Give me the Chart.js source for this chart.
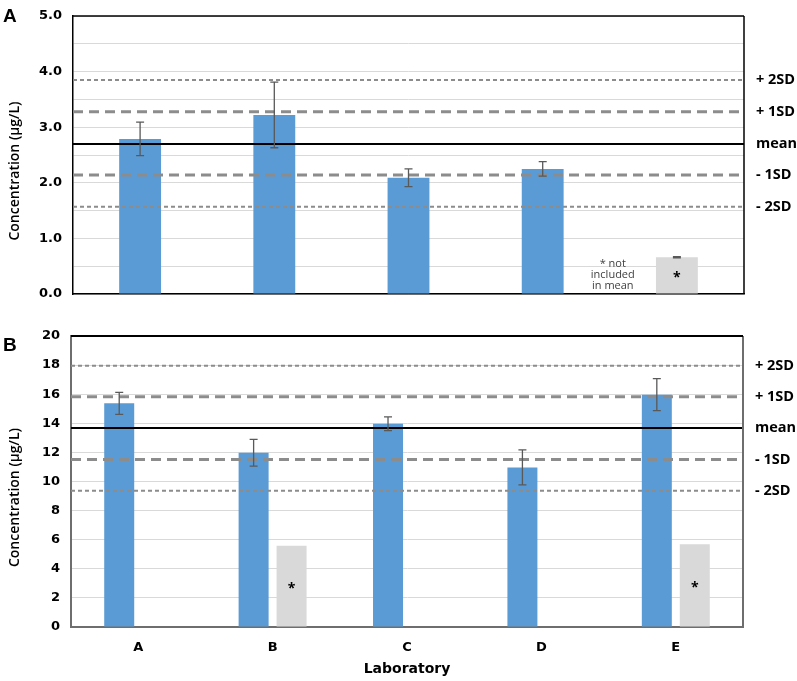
<!DOCTYPE html>
<html>
<head>
<meta charset="utf-8">
<script src="https://cdn.jsdelivr.net/npm/chart.js@4.4.1/dist/chart.umd.min.js"></script>
<style>
  body { margin: 0; background: #fff; }
  #wrap { position: relative; width: 797px; height: 681px; }
  .panel { position: absolute; left: 0; width: 797px; }
  .tag { position: absolute; left: 3px; font: bold 19px "Liberation Sans", Arial, sans-serif; line-height: 19px; }
</style>
</head>
<body>
<div id="wrap">
  <div class="panel" style="top:0;height:300px"><canvas id="chartA"></canvas></div>
  <div class="panel" style="top:300px;height:381px"><canvas id="chartB"></canvas></div>
  <div class="tag" style="top:6px">A</div>
  <div class="tag" style="top:335px">B</div>
</div>
<script>
// data
const laboratories = ['A', 'B', 'C', 'D', 'E'];
const sdLabels = ['+ 2SD', '+ 1SD', 'mean', '- 1SD', '- 2SD'];

// panel A
const includedA = [2.79, 3.22, 2.09, 2.25, null];
const includedErrA = [0.30, 0.59, 0.16, 0.13, null];
const excludedA = [null, null, null, null, 0.66];
const excludedErrA = [null, null, null, null, 0.01];
const sdLinesA = [3.85, 3.28, 2.70, 2.14, 1.57];

// panel B
const includedB = [15.37, 11.98, 13.97, 10.97, 15.97];
const includedErrB = [0.75, 0.92, 0.47, 1.20, 1.10];
const excludedB = [null, 5.58, null, null, 5.69];
const excludedErrB = [null, null, null, null, null];
const sdLinesB = [17.96, 15.83, 13.67, 11.52, 9.36];

const BLUE = '#5b9bd5';
const GREY = '#d9d9d9';
const tickFont = { family: 'DejaVu Sans', weight: 'bold', size: 13 };

// dash style for each sd line, same order as sdLabels
const lineStyles = [
  { color: '#8c8c8c', width: 2, dash: [4, 3] },
  { color: '#8c8c8c', width: 3, dash: [10, 6] },
  { color: '#000', width: 2, dash: [] },
  { color: '#8c8c8c', width: 3, dash: [10, 6] },
  { color: '#8c8c8c', width: 2, dash: [4, 3] }
];

const overlay = {
  id: 'overlay',
  afterDatasetsDraw(chart, args, o) {
    const { ctx, chartArea: a, scales: { x, y } } = chart;
    ctx.save();

    // sd / mean lines + right labels
    o.lines.forEach((v, i) => {
      const py = y.getPixelForValue(v);
      const s = lineStyles[i];
      ctx.beginPath();
      ctx.strokeStyle = s.color;
      ctx.lineWidth = s.width;
      ctx.setLineDash(s.dash);
      ctx.moveTo(a.left, py);
      ctx.lineTo(a.right, py);
      ctx.stroke();
      ctx.setLineDash([]);
      ctx.fillStyle = '#000';
      ctx.font = 'bold 14.5px "Open Sans"';
      ctx.textAlign = 'left';
      ctx.textBaseline = 'middle';
      ctx.fillText(sdLabels[i], a.right + 12, py);
    });

    // error bars
    o.errors.forEach((errs, d) => {
      const meta = chart.getDatasetMeta(d);
      const vals = chart.data.datasets[d].data;
      meta.data.forEach((bar, i) => {
        const v = vals[i], e = errs[i];
        if (v == null || e == null) return;
        const t = y.getPixelForValue(v + e), b = y.getPixelForValue(v - e);
        ctx.beginPath();
        ctx.strokeStyle = '#595959';
        ctx.lineWidth = 1.3;
        ctx.moveTo(bar.x, t); ctx.lineTo(bar.x, b);
        ctx.moveTo(bar.x - 4, t); ctx.lineTo(bar.x + 4, t);
        ctx.moveTo(bar.x - 4, b); ctx.lineTo(bar.x + 4, b);
        ctx.stroke();
      });
    });

    // asterisks on excluded bars
    const exMeta = chart.getDatasetMeta(1);
    ctx.fillStyle = '#000';
    ctx.font = 'bold 14px "Open Sans"';
    ctx.textAlign = 'center';
    ctx.textBaseline = 'middle';
    exMeta.data.forEach((bar, i) => {
      if (chart.data.datasets[1].data[i] == null) return;
      ctx.fillText('*', bar.x, (bar.y + bar.base) / 2 + 3);
    });

    // note
    if (o.note) {
      const nx = (x.getPixelForValue(3) + x.getPixelForValue(4)) / 2 + 3;
      ctx.fillStyle = '#404040';
      ctx.font = '11px "Open Sans"';
      o.note.forEach((t, i) => ctx.fillText(t, nx, a.bottom - 30 + i * 11));
    }

    // frame
    ctx.lineWidth = o.frame.width;
    ctx.strokeStyle = o.frame.side;
    ctx.beginPath();
    ctx.moveTo(a.right, a.top); ctx.lineTo(a.right, a.bottom);
    ctx.stroke();
    ctx.strokeStyle = o.frame.top;
    ctx.beginPath();
    ctx.moveTo(a.left, a.top); ctx.lineTo(a.right, a.top);
    ctx.stroke();

    // y title
    ctx.translate(15, (a.top + a.bottom) / 2 + 16);
    ctx.rotate(-Math.PI / 2);
    ctx.fillStyle = '#000';
    ctx.font = '600 14px "Open Sans"';
    ctx.fillText('Concentration (\u00b5g/L)', 0, 0);
    ctx.restore();
  }
};

new Chart(document.getElementById('chartA'), {
  type: 'bar',
  data: {
    labels: laboratories,
    datasets: [
      { data: includedA, backgroundColor: BLUE },
      { data: excludedA, backgroundColor: GREY }
    ]
  },
  options: {
    responsive: true,
    maintainAspectRatio: false,
    animation: false,
    layout: { padding: { top: 16, right: 53, bottom: 6, left: 0 } },
    datasets: { bar: { skipNull: true, categoryPercentage: 0.4, barPercentage: 0.78, borderWidth: 0 } },
    plugins: {
      legend: { display: false },
      tooltip: { enabled: false },
      overlay: {
        lines: sdLinesA,
        errors: [includedErrA, excludedErrA],
        note: ['* not', 'included', 'in mean'],
        frame: { top: '#000', side: '#000', width: 1.5 }
      }
    },
    scales: {
      x: {
        ticks: { display: false },
        grid: { display: false },
        border: { color: '#000', width: 1.5 },
        afterFit(s) { s.height = 0; }
      },
      y: {
        min: 0, max: 5,
        ticks: {
          stepSize: 0.5,
          color: '#000',
          font: tickFont,
          padding: 11,
          callback: v => Math.abs(v - Math.round(v)) < 1e-6 ? v.toFixed(1) : ''
        },
        grid: { color: '#d9d9d9', drawTicks: false },
        border: { color: '#000', width: 1.5 },
        afterFit(s) { s.width = 73; s.paddingTop = 0; s.paddingBottom = 0; }
      }
    }
  },
  plugins: [overlay]
});

new Chart(document.getElementById('chartB'), {
  type: 'bar',
  data: {
    labels: laboratories,
    datasets: [
      { data: includedB, backgroundColor: BLUE },
      { data: excludedB, backgroundColor: GREY }
    ]
  },
  options: {
    responsive: true,
    maintainAspectRatio: false,
    animation: false,
    layout: { padding: { top: 36, right: 54, bottom: 3, left: 0 } },
    datasets: { bar: { categoryPercentage: 0.565, barPercentage: 0.79, borderWidth: 0 } },
    plugins: {
      legend: { display: false },
      tooltip: { enabled: false },
      overlay: {
        lines: sdLinesB,
        errors: [includedErrB, excludedErrB],
        frame: { top: '#000', side: '#6e6e6e', width: 2 }
      }
    },
    scales: {
      x: {
        ticks: { color: '#000', font: tickFont, padding: 5 },
        grid: { display: false },
        border: { color: '#6e6e6e', width: 2 },
        title: {
          display: true,
          text: 'Laboratory',
          color: '#000',
          font: { family: 'DejaVu Sans', weight: 'bold', size: 14 },
          padding: { top: 6, bottom: 0 }
        },
        afterFit(s) { s.height = 51; }
      },
      y: {
        min: 0, max: 20,
        ticks: { stepSize: 2, color: '#000', font: tickFont, padding: 11 },
        grid: { color: '#d9d9d9', drawTicks: false },
        border: { color: '#6e6e6e', width: 2 },
        afterFit(s) { s.width = 71; }
      }
    }
  },
  plugins: [overlay]
});
</script>
</body>
</html>
